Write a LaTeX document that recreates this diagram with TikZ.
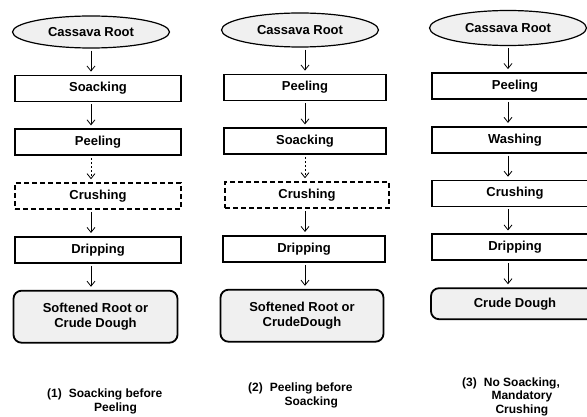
\documentclass[tikz,border=0pt]{standalone}
\usepackage{fontspec}
\setmainfont{Liberation Sans}
\usetikzlibrary{positioning,shapes.geometric,arrows.meta}
\definecolor{boxgray}{RGB}{240,240,240}

\begin{document}
\begin{tikzpicture}[x=1pt, y=-1pt, node distance={26pt},
    font=\bfseries\fontsize{13}{15}\selectfont,
    start/.style = {draw, ellipse, fill=boxgray, line width=1.2pt, minimum width=157pt, minimum height=32pt, inner sep=0pt},
    stepbox/.style = {draw, rectangle, line width=1.8pt, minimum width=166pt, minimum height=26pt, inner sep=0pt},
    optbox/.style = {stepbox, dash pattern=on 5pt off 3pt},
    endbox/.style = {draw, rectangle, rounded corners=8pt, fill=boxgray, line width=1.8pt, minimum width=164pt, align=center},
    caption/.style = {inner sep=0pt, anchor=base west, font=\bfseries\fontsize{12}{14}\selectfont},
    link/.style = {->, line width=0.8pt, shorten <=2pt, shorten >=3pt},
    >={Straight Barb[length=5pt,width=8pt]}]
    \path[use as bounding box, clip] (0,0) rectangle (587,417);

    % (1) soaking first
    \node[start] (root1) at (91,32) {Cassava Root};
    \node[stepbox] (soak1) [below=of root1, xshift=7pt] {Soacking};
    \node[stepbox] (peel1) [below=of soak1] {Peeling};
    \node[optbox] (crush1) [below=of peel1] {Crushing};
    \node[stepbox] (drip1) [below=of crush1] {Dripping};
    \node[endbox, minimum height=52pt] (dough1) [below=of drip1, xshift=-2.5pt] {Softened Root or\\Crude Dough};
    \node[caption] (cap1) at (47,397) {\begin{tabular}[t]{@{}l@{\hspace{7pt}}c@{}}(1) & Soacking before\\ & Peeling\end{tabular}};

    \draw[link] (root1) -- (root1 |- soak1.north);
    \draw[link] (soak1.south -| root1) -- (peel1.north -| root1);
    \draw[link, dash pattern=on 2pt off 2pt] (peel1.south -| root1) -- (crush1.north -| root1);
    \draw[link] (crush1.south -| root1) -- (drip1.north -| root1);
    \draw[link] (drip1.south -| root1) -- (dough1.north -| root1);

    % (2) peeling first
    \node[start, minimum height=34pt] (root2) at (300,30) {Cassava Root};
    \node[stepbox, minimum width=162pt] (peel2) [below=of root2, xshift=5pt] {Peeling};
    \node[stepbox, minimum width=162pt] (soak2) [below=of peel2] {Soacking};
    \node[optbox, minimum width=164pt] (crush2) [below=of soak2, xshift=2pt] {Crushing};
    \node[stepbox, minimum width=162pt] (drip2) [below=of crush2, xshift=-3pt] {Dripping};
    \node[endbox, minimum height=52pt, minimum width=163pt] (dough2) [below=of drip2, xshift=-2pt] {Softened Root or\\CrudeDough};
    \node[caption] (cap2) at (248,391) {\begin{tabular}[t]{@{}l@{\hspace{7pt}}c@{}}(2) & Peeling before\\ & Soacking\end{tabular}};

    \draw[link] (root2.south -| peel2) -- (peel2.north);
    \draw[link] (peel2) -- (soak2);
    \draw[link, dash pattern=on 2pt off 2pt] (soak2.south) -- (crush2.north -| soak2);
    \draw[link] (crush2.south -| soak2) -- (drip2.north -| soak2);
    \draw[link] (drip2.south -| soak2) -- (dough2.north -| soak2);

    % (3) no soaking
    \node[start, minimum height=35pt] (root3) at (508,28) {Cassava Root};
    \node[stepbox] (peel3) [below=of root3, xshift=7pt] {Peeling};
    \node[stepbox] (wash3) [below=of peel3] {Washing};
    \node[stepbox] (crush3) [below=of wash3] {Crushing};
    \node[stepbox] (drip3) [below=of crush3] {Dripping};
    \node[endbox, minimum height=31pt, minimum width=168pt] (dough3) [below=of drip3] {Crude Dough};
    \node[caption, font=\bfseries\fontsize{12}{13.5}\selectfont] (cap3) at (462,386) {\begin{tabular}[t]{@{}l@{\hspace{7pt}}c@{}}(3) & No Soacking,\\ & Mandatory\\ & Crushing\end{tabular}};

    \draw[link] (root3) -- (root3 |- peel3.north);
    \draw[link] (peel3.south -| root3) -- (wash3.north -| root3);
    \draw[link] (wash3.south -| root3) -- (crush3.north -| root3);
    \draw[link] (crush3.south -| root3) -- (drip3.north -| root3);
    \draw[link] (drip3.south -| root3) -- (dough3.north -| root3);
\end{tikzpicture}
\end{document}
